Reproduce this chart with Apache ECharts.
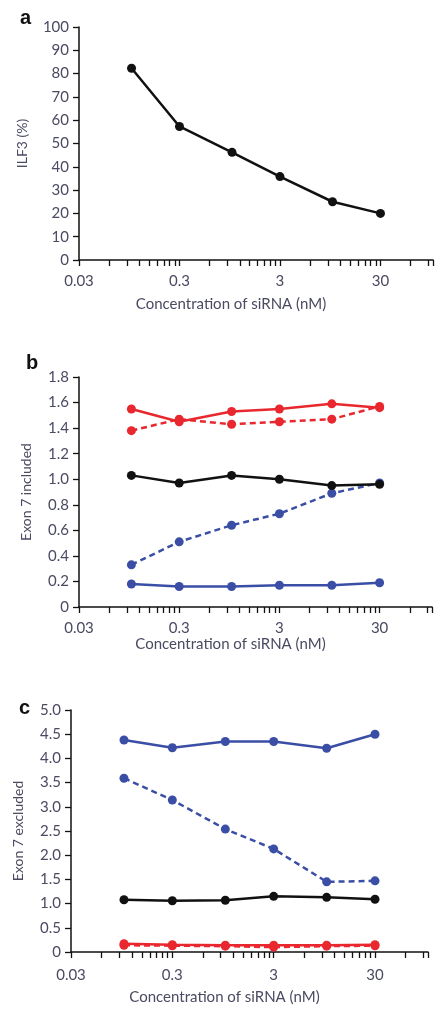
<!DOCTYPE html>
<html>
<head>
<meta charset="utf-8">
<style>
html,body{margin:0;padding:0;background:#fff;}
#chart{width:444px;height:1015px;}
</style>
<script src="https://cdn.jsdelivr.net/npm/echarts@6/dist/echarts.min.js"></script>
</head>
<body>
<div id="chart"></div>
<script>
// ---- data ----
const concentrations = [0.1, 0.3, 1, 3, 10, 30];        // nM
const xTickLabels = [0.03, 0.3, 3, 30];
const xDecades = [0.03, 0.3, 3, 30];
const xMinorMultipliers = [1, 2, 3, 4, 5, 6, 7, 8, 9];
const xAxisMin = 0.03, xAxisMax = 100;

// panel a
const ilf3 = [82.3, 57.3, 46.2, 35.8, 25.0, 20.0];
// panel b : exon 7 included
const bRedSolid  = [1.55, 1.45, 1.53, 1.55, 1.59, 1.56];
const bRedDash   = [1.38, 1.47, 1.43, 1.45, 1.47, 1.57];
const bBlack     = [1.03, 0.97, 1.03, 1.00, 0.95, 0.96];
const bBlueDash  = [0.33, 0.51, 0.64, 0.73, 0.89, 0.97];
const bBlueSolid = [0.18, 0.16, 0.16, 0.17, 0.17, 0.19];
// panel c : exon 7 excluded
const cBlueSolid = [4.38, 4.22, 4.35, 4.35, 4.21, 4.50];
const cBlueDash  = [3.59, 3.14, 2.54, 2.13, 1.45, 1.47];
const cBlack     = [1.08, 1.06, 1.07, 1.15, 1.13, 1.09];
const cRedSolid  = [0.17, 0.15, 0.14, 0.14, 0.14, 0.15];
const cRedDash   = [0.14, 0.13, 0.12, 0.10, 0.12, 0.13];

// ---- helpers ----
const L = v => Math.log10(v);
const tickVals = [];
xDecades.forEach(d => xMinorMultipliers.forEach(m => { const v = d * m; if (v <= xAxisMax + 1e-9) tickVals.push(L(v)); }));
tickVals.push(L(xAxisMax));
const labelVals = xTickLabels.map(L);

const FONT = 'Lato';
const TXT = '#4a4a62';
const RED = '#e8282e', BLUE = '#3a4ea6', BLACK = '#111111';

function xAxis(gridIndex, nameGap, labelMargin) {
  return {
    type: 'value', gridIndex, min: L(xAxisMin), max: L(xAxisMax),
    name: 'Concentration of siRNA (nM)', nameLocation: 'middle', nameGap,
    nameTextStyle: { fontFamily: FONT, fontSize: 15, color: TXT, padding: [0, 50, 0, 0] },
    axisLine: { show: true, onZero: false, lineStyle: { color: '#111', width: 1.5 } },
    axisTick: { show: true, length: 6, lineStyle: { color: '#111', width: 1.3 }, customValues: tickVals },
    axisLabel: {
      fontFamily: FONT, fontSize: 15, color: TXT, margin: labelMargin, customValues: labelVals,
      formatter: v => String(Number(Math.pow(10, v).toPrecision(6)))
    },
    splitLine: { show: false }
  };
}
function yAxis(gridIndex, max, interval, name, nameGap) {
  return {
    type: 'value', gridIndex, min: 0, max, interval,
    name, nameLocation: 'middle', nameGap,
    nameTextStyle: { fontFamily: FONT, fontSize: 14, color: TXT },
    axisLine: { show: true, onZero: false, lineStyle: { color: '#111', width: 1.5 } },
    axisTick: { show: true, length: 6, lineStyle: { color: '#111', width: 1.3 } },
    axisLabel: {
      fontFamily: FONT, fontSize: 15, color: TXT, margin: 10,
      formatter: v => (interval >= 1 ? String(Math.round(v)) : (Math.abs(v) < 1e-9 ? '0' : v.toFixed(1)))
    },
    splitLine: { show: false }
  };
}
function line(idx, values, color, dashed, z) {
  return {
    type: 'line', xAxisIndex: idx, yAxisIndex: idx, z: z || 2,
    data: concentrations.map((c, i) => [L(c), values[i]]),
    symbol: 'circle', symbolSize: 9,
    itemStyle: { color },
    lineStyle: { color, width: 2.5, type: dashed ? [6, 4] : 'solid' },
    emphasis: { disabled: true }, animation: false
  };
}

const chart = echarts.init(document.getElementById('chart'), null, { renderer: 'canvas' });
chart.setOption({
  animation: false,
  backgroundColor: '#ffffff',
  title: [
    { text: 'a', left: 15, top: 3, textStyle: { fontFamily: 'Liberation Sans', fontWeight: 'bold', fontSize: 20, color: '#111' } },
    { text: 'b', left: 21, top: 348, textStyle: { fontFamily: 'Liberation Sans', fontWeight: 'bold', fontSize: 20, color: '#111' } },
    { text: 'c', left: 14, top: 693, textStyle: { fontFamily: 'Liberation Sans', fontWeight: 'bold', fontSize: 20, color: '#111' } }
  ],
  grid: [
    { left: 79, top: 27, width: 354, height: 233 },
    { left: 79, top: 377, width: 353, height: 230 },
    { left: 71, top: 710, width: 357, height: 242 }
  ],
  xAxis: [xAxis(0, 37, 14), xAxis(1, 25, 14), xAxis(2, 38, 16)],
  yAxis: [
    yAxis(0, 100, 10, 'ILF3 (%)', 50),
    yAxis(1, 1.8, 0.2, 'Exon 7 included', 46),
    yAxis(2, 5, 0.5, 'Exon 7 excluded', 46)
  ],
  series: [
    line(0, ilf3, BLACK, false),
    line(1, bBlueSolid, BLUE, false),
    line(1, bBlueDash, BLUE, true),
    line(1, bBlack, BLACK, false, 3),
    line(1, bRedDash, RED, true),
    line(1, bRedSolid, RED, false),
    line(2, cRedDash, RED, true),
    line(2, cRedSolid, RED, false),
    line(2, cBlack, BLACK, false),
    line(2, cBlueDash, BLUE, true),
    line(2, cBlueSolid, BLUE, false)
  ]
});
</script>
</body>
</html>
